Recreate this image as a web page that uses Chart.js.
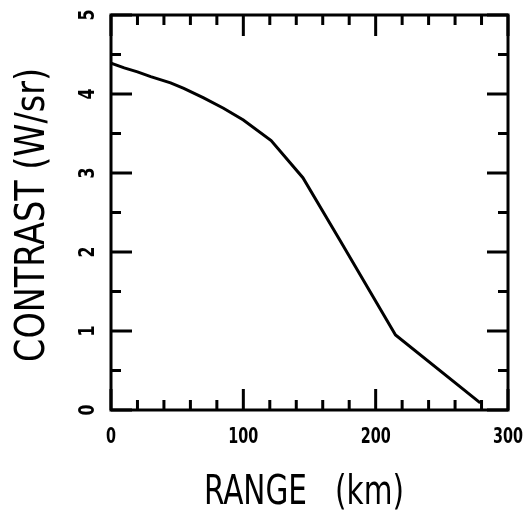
<!DOCTYPE html>
<html>
<head>
<meta charset="utf-8">
<script src="https://cdn.jsdelivr.net/npm/chart.js@4/dist/chart.umd.min.js"></script>
<style>
  html, body { margin: 0; padding: 0; background: #fff; }
  #wrap { width: 529px; height: 514px; }
</style>
</head>
<body>
<div id="wrap"><canvas id="contrastChart" width="529" height="514"></canvas></div>
<script>
// range (km) vs contrast (W/sr)
const rangeKm = [0, 10, 20, 30, 45, 55, 70, 85, 100, 121, 145, 173, 215, 279];
const contrast = [4.39, 4.33, 4.28, 4.22, 4.14, 4.07, 3.95, 3.82, 3.67, 3.41, 2.94, 2.15, 0.95, 0.09];

const xMajor = [0, 100, 200, 300];
const xMinor = [20, 40, 60, 80, 120, 140, 160, 180, 220, 240, 260, 280];
const yMajor = [0, 1, 2, 3, 4, 5];
const yMinor = [0.5, 1.5, 2.5, 3.5, 4.5];

const xTitle = 'RANGE   (km)';
const yTitle = 'CONTRAST (W/sr)';

// draw text squeezed horizontally to a target width
function fitText(ctx, text, x, y, font, width) {
  ctx.save();
  ctx.font = font;
  const w = ctx.measureText(text).width;
  ctx.translate(x, y);
  ctx.scale(width / w, 1);
  ctx.fillText(text, 0, 0);
  ctx.restore();
}

const frameAndTicks = {
  id: 'frameAndTicks',
  afterDatasetsDraw(chart) {
    const { ctx, chartArea: a, scales: { x, y } } = chart;
    ctx.save();
    ctx.strokeStyle = '#000';
    ctx.fillStyle = '#000';
    ctx.lineWidth = 3;
    ctx.lineCap = 'butt';

    ctx.strokeRect(a.left, a.top, a.right - a.left, a.bottom - a.top);

    const xTick = (v, len) => {
      const px = x.getPixelForValue(v);
      ctx.beginPath();
      ctx.moveTo(px, a.bottom); ctx.lineTo(px, a.bottom - len);
      ctx.moveTo(px, a.top); ctx.lineTo(px, a.top + len);
      ctx.stroke();
    };
    const yTick = (v, len) => {
      const py = y.getPixelForValue(v);
      ctx.beginPath();
      ctx.moveTo(a.left, py); ctx.lineTo(a.left + len, py);
      ctx.moveTo(a.right, py); ctx.lineTo(a.right - len, py);
      ctx.stroke();
    };
    xMajor.forEach(v => xTick(v, 21));
    xMinor.forEach(v => xTick(v, 10));
    yMajor.forEach(v => yTick(v, 21));
    yMinor.forEach(v => yTick(v, 10));

    // tick labels
    ctx.textAlign = 'center';
    ctx.textBaseline = 'middle';
    xMajor.forEach(v => {
      const s = String(v);
      fitText(ctx, s, x.getPixelForValue(v), 437, 'bold 22px "DejaVu Sans"', 10 * s.length);
    });
    yMajor.forEach(v => {
      ctx.save();
      ctx.translate(88, y.getPixelForValue(v));
      ctx.rotate(-Math.PI / 2);
      fitText(ctx, String(v), 0, 0, 'bold 22px "DejaVu Sans"', 11);
      ctx.restore();
    });

    // axis titles
    fitText(ctx, xTitle, 304, 494, '40px "DejaVu Sans Condensed", "DejaVu Sans"', 200);
    ctx.save();
    ctx.translate(34, 215);
    ctx.rotate(-Math.PI / 2);
    fitText(ctx, yTitle, 0, 0, '40px "DejaVu Sans Condensed", "DejaVu Sans"', 294);
    ctx.restore();
    ctx.restore();
  },
};

new Chart(document.getElementById('contrastChart'), {
  type: 'line',
  data: {
    datasets: [{
      data: rangeKm.map((r, i) => ({ x: r, y: contrast[i] })),
      borderColor: '#000',
      borderWidth: 3,
      pointRadius: 0,
      tension: 0,
      fill: false,
    }],
  },
  options: {
    responsive: false,
    animation: false,
    events: [],
    layout: { padding: { left: 111, right: 21, top: 15, bottom: 104 } },
    scales: {
      x: { type: 'linear', min: 0, max: 300, display: false },
      y: { type: 'linear', min: 0, max: 5, display: false },
    },
    plugins: { legend: { display: false }, tooltip: { enabled: false } },
  },
  plugins: [frameAndTicks],
});
</script>
</body>
</html>
